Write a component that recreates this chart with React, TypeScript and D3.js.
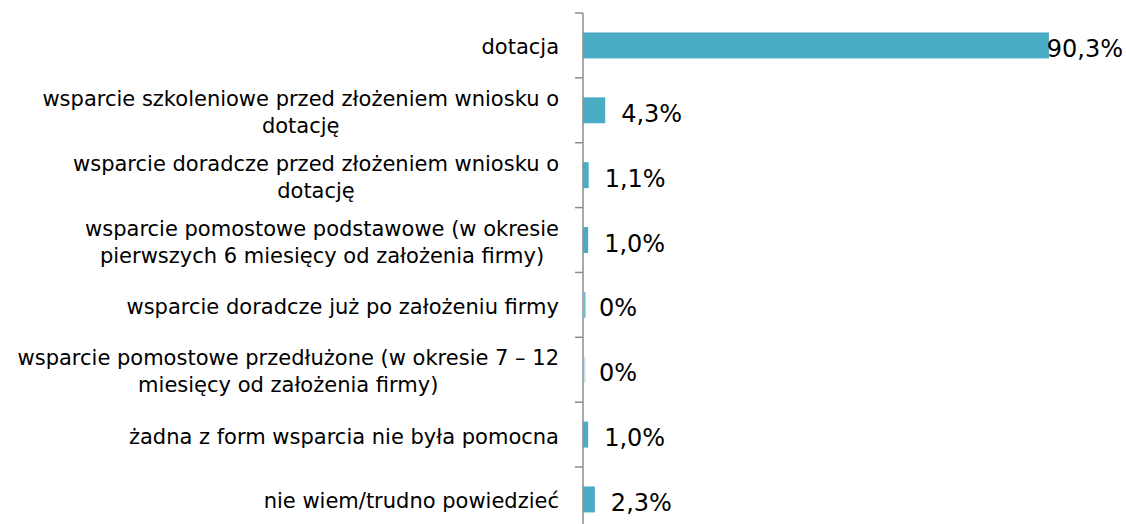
import React from "react";
import * as d3 from "d3";

const categories: string[][] = [
  ["dotacja"],
  ["wsparcie szkoleniowe przed złożeniem wniosku o", "dotację"],
  ["wsparcie doradcze przed złożeniem wniosku o", "dotację"],
  ["wsparcie pomostowe podstawowe (w okresie", "pierwszych 6 miesięcy od założenia firmy)"],
  ["wsparcie doradcze już po założeniu firmy"],
  ["wsparcie pomostowe przedłużone (w okresie 7 – 12", "miesięcy od założenia firmy)"],
  ["żadna z form wsparcia nie była pomocna"],
  ["nie wiem/trudno powiedzieć"],
];
const values: number[] = [90.3, 4.3, 1.1, 1.0, 0, 0, 1.0, 2.3];
const valueLabels: string[] = ["90,3%", "4,3%", "1,1%", "1,0%", "0%", "0%", "1,0%", "2,3%"];

const W = 1126;
const H = 524;
const AXIS_X = 583;
const TOP = 13;
const STEP = 64.86;
const FONT = "'DejaVu Sans', Verdana, sans-serif";
const LABEL_SIZE = 21;
const VALUE_SIZE = 24;
const BAR = "#4BACC6";
const AXIS = "#8C8C8C";

function measure(text: string, size: number): number {
  if (typeof document === "undefined") return text.length * size * 0.55;
  const c = document.createElement("canvas").getContext("2d");
  if (!c) return text.length * size * 0.55;
  c.font = `${size}px 'DejaVu Sans'`;
  return c.measureText(text).width;
}

export default function App() {
  const keys = categories.map((_, i) => String(i));
  const y = d3
    .scaleBand<string>()
    .domain(keys)
    .range([TOP, TOP + STEP * categories.length])
    .paddingInner(0.6)
    .paddingOuter(0.3);
  const x = d3.scaleLinear().domain([0, 100]).range([AXIS_X, AXIS_X + 516]);
  const step = y.step();
  const bandStart = (i: number) => TOP + i * step;
  const labelRight = AXIS_X - 24;

  return (
    <svg
      width={W}
      height={H}
      style={{ position: "absolute", left: 0, top: 0, background: "#fff" }}
      fontFamily={FONT}
    >
      <rect x={0} y={0} width={W} height={H} fill="#fff" />
      {values.map((v, i) => {
        const yy = y(String(i))!;
        const w = x(v) - x(0);
        if (v === 0) {
          return (
            <line
              key={"b" + i}
              x1={x(0) + 1.8}
              x2={x(0) + 1.8}
              y1={yy}
              y2={yy + y.bandwidth()}
              stroke={i === 4 ? "#6FC0D6" : "#C8E8F1"}
              strokeWidth={1.6}
            />
          );
        }
        return (
          <rect
            key={"b" + i}
            x={x(0)}
            y={yy}
            width={w}
            height={y.bandwidth()}
            fill={BAR}
          />
        );
      })}
      <line x1={AXIS_X} x2={AXIS_X} y1={TOP} y2={H + 20} stroke={AXIS} strokeWidth={1.5} />
      {d3.range(categories.length + 1).map((i) => (
        <line
          key={"t" + i}
          x1={AXIS_X - 8}
          x2={AXIS_X}
          y1={bandStart(i)}
          y2={bandStart(i)}
          stroke={AXIS}
          strokeWidth={1.5}
        />
      ))}
      {categories.map((lines, i) => {
        const c = bandStart(i) + step / 2;
        const maxW = d3.max(lines, (l) => measure(l, LABEL_SIZE)) || 0;
        const cx = lines.length > 1 ? labelRight - maxW / 2 : labelRight;
        return (
          <text
            key={"c" + i}
            textAnchor={lines.length > 1 ? "middle" : "end"}
            fontSize={LABEL_SIZE}
            fill="#000"
          >
            {lines.map((ln, j) => (
              <tspan key={j} x={cx} y={c + 9 + (j - (lines.length - 1) / 2) * 27}>
                {ln}
              </tspan>
            ))}
          </text>
        );
      })}
      {values.map((v, i) => {
        const c = y(String(i))! + y.bandwidth() / 2;
        const lx = x(v) + 16;
        const tw = measure(valueLabels[i], VALUE_SIZE);
        const clamp = lx + tw > W - 3;
        return (
          <text
            key={"v" + i}
            x={clamp ? W - 3 : lx}
            y={c + 11.5}
            textAnchor={clamp ? "end" : "start"}
            fontSize={VALUE_SIZE}
            fill="#000"
          >
            {valueLabels[i]}
          </text>
        );
      })}
    </svg>
  );
}
